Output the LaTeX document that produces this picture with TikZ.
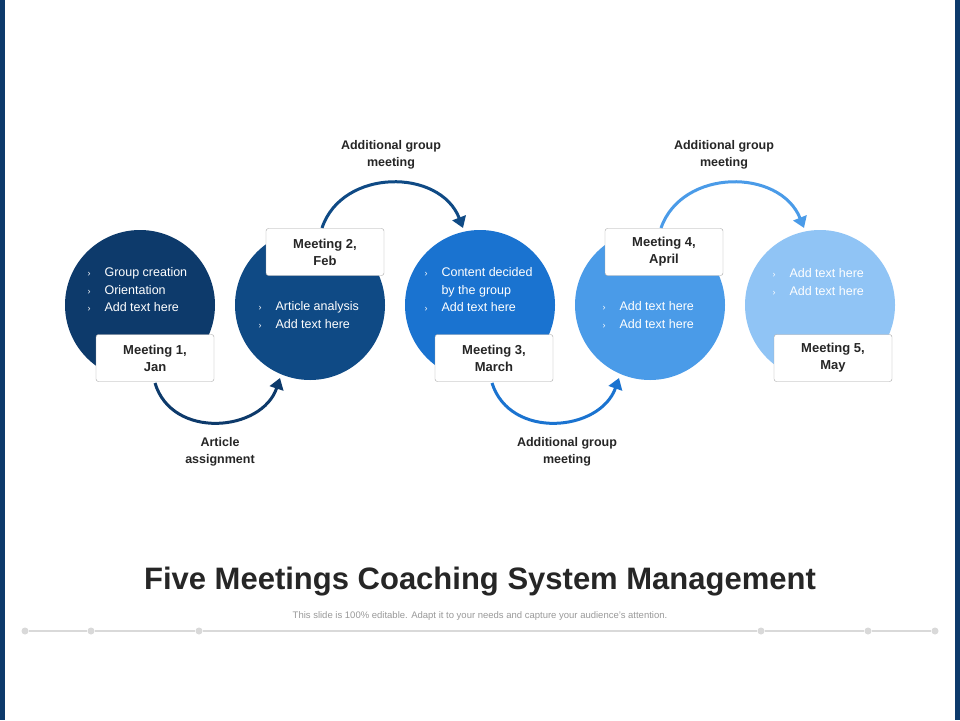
\documentclass[tikz,border=0pt]{standalone}
\usepackage{fontspec}
\setmainfont{Liberation Sans}
\usetikzlibrary{arrows.meta}
\definecolor{cA}{HTML}{0D3A6B}
\definecolor{cB}{HTML}{0F4A85}
\definecolor{cC}{HTML}{1A73D0}
\definecolor{cD}{HTML}{4A9BE8}
\definecolor{cE}{HTML}{90C4F5}
\definecolor{txt}{HTML}{262626}
\tikzset{
 circ/.style={circle,minimum size=150pt,inner sep=0pt},
 lbl/.style={draw=gray!70,fill=white,rounded corners=2.5pt,minimum width=118pt,minimum height=47pt,align=center,font=\fontsize{13}{17}\selectfont\bfseries,text=txt},
 captxt/.style={align=center,font=\fontsize{12.5}{17}\selectfont\bfseries,text=txt},
 bl/.style={align=left,anchor=west,text=white,font=\fontsize{12.5}{17.5}\selectfont},
 arcline/.style={line width=3pt,-{Triangle[length=11pt,width=14pt]}},
 dotnode/.style={circle,fill=gray!30,inner sep=0pt,minimum size=7pt}
}
\newcommand{\bu}{\makebox[17pt][l]{\fontsize{9}{10}\selectfont›}}
\begin{document}
\begin{tikzpicture}[x=1pt,y=-1pt]
\useasboundingbox (0,0) rectangle (960,720);
\fill[white] (0,0) rectangle (960,720);
\fill[cA] (0,0) rectangle (5,720);
\fill[cA] (955,0) rectangle (960,720);
% circles
\node[circ,fill=cA] (c1) at (140,305) {};
\node[circ,fill=cB] (c2) at (310,305) {};
\node[circ,fill=cC] (c3) at (480,305) {};
\node[circ,fill=cD] (c4) at (650,305) {};
\node[circ,fill=cE] (c5) at (820,305) {};
% bullets
\node[bl] (t1) at (84,290) {\bu Group creation\\\bu Orientation\\\bu Add text here};
\node[bl] (t2) at (255,315) {\bu Article analysis\\\bu Add text here};
\node[bl] (t3) at (421,290) {\bu Content decided\\\hspace*{17pt}by the group\\\bu Add text here};
\node[bl] (t4) at (599,315) {\bu Add text here\\\bu Add text here};
\node[bl] (t5) at (769,282) {\bu Add text here\\\bu Add text here};
% arcs
\coordinate (e1) at (280,378);
\coordinate (e2) at (463,228);
\coordinate (e3) at (619,378);
\coordinate (e4) at (804,228);
\draw[arcline,cA] (155,383) .. controls (172,440) and (262,432) .. (e1);
\draw[arcline,cB] (322,228) .. controls (342,168) and (440,168) .. (e2);
\draw[arcline,cC] (492,383) .. controls (510,440) and (600,432) .. (e3);
\draw[arcline,cD] (661,228) .. controls (682,168) and (780,168) .. (e4);
% labels
\node[lbl] (m1) at (155,358) {Meeting 1,\\Jan};
\node[lbl] (m2) at (325,252) {Meeting 2,\\Feb};
\node[lbl] (m3) at (494,358) {Meeting 3,\\March};
\node[lbl] (m4) at (664,252) {Meeting 4,\\April};
\node[lbl] (m5) at (833,358) {Meeting 5,\\May};
\node[captxt] (a1) at (391,155) {Additional group\\meeting};
\node[captxt] (a2) at (724,155) {Additional group\\meeting};
\node[captxt] (a3) at (220,452) {Article\\assignment};
\node[captxt] (a4) at (567,452) {Additional group\\meeting};
% title
\node[text=txt,font=\fontsize{31}{36}\selectfont\bfseries] (ttl) at (480,582) {Five Meetings Coaching System Management};
\node[text=gray!80,font=\fontsize{9.5}{11}\selectfont] (sub) at (480,616) {This slide is 100\% editable. Adapt it to your needs and capture your audience's attention.};
\node[dotnode] (d1) at (25,631) {};
\node[dotnode] (d2) at (91,631) {};
\node[dotnode] (d3) at (199,631) {};
\node[dotnode] (d4) at (761,631) {};
\node[dotnode] (d5) at (868,631) {};
\node[dotnode] (d6) at (935,631) {};
\draw[gray!30,line width=2pt] (d1)--(d2)--(d3)--(d4)--(d5)--(d6);
\end{tikzpicture}
\end{document}
